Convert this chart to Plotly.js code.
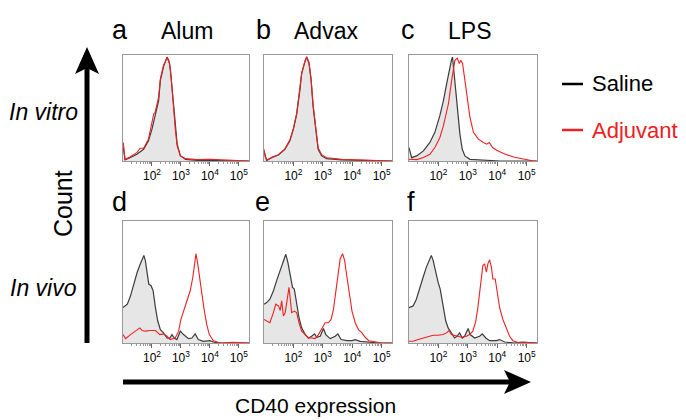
<!DOCTYPE html>
<html><head><meta charset="utf-8">
<script src="https://cdn.plot.ly/plotly-3.0.1.min.js"></script>
<style>html,body{margin:0;padding:0;background:#fff}#chart{width:686px;height:420px}</style>
</head><body><div id="chart"></div>
<script>
// ---- data (x in log10 units of CD40 fluorescence, y = normalised count) ----
const tickVals = [2, 3, 4, 5];
const tickText = ['10<sup>2</sup>', '10<sup>3</sup>', '10<sup>4</sup>', '10<sup>5</sup>'];
const panelLetters = ['a', 'b', 'c', 'd', 'e', 'f'];
const adjuvantNames = ['Alum', 'Advax', 'LPS'];
const rowLabels = ['In vitro', 'In vivo'];
const seriesNames = ['Saline', 'Adjuvant'];

// a: Alum in vitro
const aSalineX = [1.01,1.07,1.24,1.48,1.71,1.88,2.0,2.11,2.23,2.29,2.40,2.52,2.61,2.67,2.75,2.81,2.87,2.98,3.16,3.56,4.03,5.35];
const aSalineY = [.13,.01,.03,.063,.11,.19,.30,.43,.57,.76,.89,.98,.92,.76,.51,.32,.16,.05,.016,.006,.003,0];
const aAdjX = [1.01,1.07,1.24,1.48,1.59,1.71,1.88,2.0,2.06,2.11,2.17,2.23,2.29,2.40,2.46,2.52,2.58,2.64,2.69,2.75,2.81,2.87,2.98,3.16,3.56,4.03,4.38,5.35];
const aAdjY = [.175,.016,.038,.079,.12,.12,.206,.349,.444,.46,.54,.603,.778,.905,.937,.98,.952,.857,.698,.476,.286,.143,.048,.022,.013,.016,.01,0];
// b: Advax in vitro
const bSalineX = [1.0,1.09,1.26,1.49,1.71,1.88,2.0,2.11,2.22,2.28,2.39,2.45,2.53,2.6,2.67,2.76,2.84,2.96,3.13,3.64,4.44,5.35];
const bSalineY = [.095,.006,.03,.057,.11,.19,.30,.44,.667,.825,.937,.98,.92,.76,.51,.286,.11,.048,.022,.01,.005,0];
const bAdjX = [1.0,1.05,1.12,1.26,1.49,1.71,1.88,2.0,2.11,2.22,2.28,2.39,2.45,2.53,2.6,2.67,2.76,2.84,2.96,3.13,3.64,4.44,5.35];
const bAdjY = [.11,.03,.01,.035,.06,.115,.2,.31,.45,.675,.83,.94,.985,.93,.78,.53,.3,.125,.06,.03,.015,.008,0];
// c: LPS in vitro
const cSalineX = [1.0,1.09,1.26,1.49,1.71,1.88,2.05,2.17,2.28,2.39,2.45,2.48,2.56,2.62,2.68,2.73,2.81,2.90,3.07,3.53,4.09,5.34];
const cSalineY = [.127,.032,.048,.095,.175,.27,.43,.57,.73,.89,.96,.98,.76,.57,.40,.254,.11,.048,.016,.006,0,0];
const cAdjX = [1.0,1.26,1.49,1.71,1.88,2.05,2.17,2.34,2.45,2.51,2.56,2.64,2.71,2.76,2.82,2.90,2.96,3.07,3.19,3.36,3.53,3.64,3.73,3.84,3.98,4.21,4.55,4.89,5.23,5.34];
const cAdjY = [.016,.013,.032,.063,.127,.222,.333,.54,.76,.89,.95,.97,.92,.95,.92,.76,.635,.413,.27,.206,.175,.159,.175,.127,.102,.07,.038,.016,0,0];
// d: Alum in vivo
const dSalineX = [1.00,1.15,1.26,1.38,1.49,1.60,1.72,1.77,1.83,1.89,1.97,2.04,2.12,2.20,2.29,2.40,2.52,2.61,2.69,2.77,2.86,2.98,3.09,3.26,3.38,3.49,3.60,3.77,4.00,4.12,4.35,4.75,4.86,5.35];
const dSalineY = [.29,.318,.387,.497,.58,.649,.718,.677,.566,.483,.47,.428,.29,.18,.11,.083,.041,.036,.069,.041,.028,.097,.069,.036,.041,.075,.028,.014,.019,.008,0,0,.006,0];
const dAdjX = [1.00,1.09,1.26,1.43,1.58,1.66,1.77,1.95,2.12,2.27,2.40,2.52,2.63,2.80,2.92,3.00,3.11,3.23,3.32,3.41,3.47,3.52,3.58,3.64,3.72,3.80,3.89,3.98,4.12,4.35,4.80,5.35];
const dAdjY = [.069,.036,.069,.097,.124,.102,.097,.102,.102,.069,.075,.055,.028,.041,.097,.193,.276,.359,.428,.539,.649,.732,.649,.539,.428,.276,.152,.069,.019,0,.006,0];
// e: Advax in vivo
const eSalineX = [1.00,1.09,1.20,1.32,1.43,1.55,1.66,1.74,1.81,1.89,1.97,2.03,2.11,2.19,2.28,2.40,2.51,2.62,2.72,2.79,2.91,3.02,3.10,3.25,3.42,3.51,3.62,3.82,3.99,4.10,4.27,4.56,4.90,5.35];
const eSalineY = [.318,.331,.359,.428,.511,.594,.677,.727,.663,.566,.456,.442,.318,.207,.124,.069,.041,.055,.075,.047,.055,.119,.069,.036,.055,.075,.028,.019,.019,.028,.014,.008,0,0];
const eAdjX = [1.00,1.09,1.20,1.32,1.40,1.49,1.55,1.60,1.66,1.72,1.81,1.85,1.90,1.94,2.03,2.11,2.19,2.28,2.40,2.51,2.62,2.74,2.85,2.96,3.08,3.19,3.28,3.36,3.44,3.51,3.59,3.67,3.74,3.82,3.90,3.99,4.10,4.21,4.33,4.44,4.56,4.78,5.01,5.35];
const eAdjY = [.193,.18,.166,.249,.318,.304,.268,.345,.221,.249,.387,.456,.345,.249,.262,.249,.166,.097,.069,.041,.041,.036,.069,.11,.166,.166,.193,.276,.428,.58,.691,.732,.677,.539,.387,.262,.166,.11,.083,.047,.019,.008,0,0];
// f: LPS in vivo
const fSalineX = [1.00,1.14,1.25,1.36,1.48,1.59,1.70,1.76,1.82,1.91,1.99,2.06,2.16,2.25,2.33,2.44,2.55,2.63,2.72,2.81,2.89,3.01,3.08,3.23,3.40,3.49,3.61,3.74,3.97,4.08,4.25,4.59,4.82,5.35];
const fSalineY = [.29,.304,.359,.456,.539,.622,.691,.718,.677,.566,.497,.442,.29,.18,.124,.083,.041,.055,.083,.041,.055,.119,.069,.041,.055,.075,.041,.019,.019,.028,.008,0,.008,0];
const fAdjX = [1.00,1.14,1.31,1.48,1.65,1.82,1.99,2.16,2.27,2.36,2.44,2.55,2.67,2.78,2.95,3.06,3.17,3.27,3.34,3.40,3.46,3.51,3.57,3.63,3.68,3.74,3.80,3.85,3.93,4.00,4.08,4.19,4.31,4.42,4.53,4.76,4.93,5.35];
const fAdjY = [.014,.014,.028,.041,.055,.064,.064,.069,.083,.102,.069,.061,.055,.047,.055,.069,.097,.18,.29,.40,.539,.635,.649,.58,.649,.682,.622,.525,.525,.40,.29,.193,.124,.055,.019,0,.006,0];

const salineX = [aSalineX, bSalineX, cSalineX, dSalineX, eSalineX, fSalineX];
const salineY = [aSalineY, bSalineY, cSalineY, dSalineY, eSalineY, fSalineY];
const adjX = [aAdjX, bAdjX, cAdjX, dAdjX, eAdjX, fAdjX];
const adjY = [aAdjY, bAdjY, cAdjY, dAdjY, eAdjY, fAdjY];

// ---- layout helpers (pixel -> paper) ----
const W = 686, H = 420;
const PX = v => v / W, PY = v => 1 - v / H;
const colPx = [[123, 249], [264, 392], [409, 537]];
const rowPx = [[55, 161], [221, 343]];
const FONT = '"Liberation Sans", Arial, sans-serif';
const RED = 'rgb(238,32,32)';

const minorVals = [];
for (let n = 1; n <= 4; n++) for (let k = 2; k <= 9; k++) minorVals.push(n + Math.log10(k));

const traces = [];
const layout = {
  width: W, height: H, margin: {l: 0, r: 0, t: 0, b: 0},
  paper_bgcolor: '#fff', plot_bgcolor: '#fff', showlegend: false,
  font: {family: FONT, color: '#000'},
  annotations: [], shapes: []
};

for (let i = 0; i < 6; i++) {
  const k = i + 1, suf = k > 1 ? k : '';
  const col = colPx[i % 3], row = rowPx[Math.floor(i / 3)];
  layout['xaxis' + suf] = {
    domain: [PX(col[0]), PX(col[1])], anchor: 'y' + suf, range: [1, 5.35],
    showline: true, mirror: true, linecolor: '#999', linewidth: 1,
    showgrid: false, zeroline: false, fixedrange: true,
    tickmode: 'array', tickvals: tickVals, ticktext: tickText,
    ticks: 'outside', ticklen: 4, tickwidth: 1, tickcolor: '#666',
    tickfont: {size: 12, color: '#000', family: FONT},
    minor: {tickmode: 'array', tickvals: minorVals, ticks: 'outside', ticklen: 2, tickwidth: 1, tickcolor: '#999'}
  };
  layout['yaxis' + suf] = {
    domain: [PY(row[1]), PY(row[0])], anchor: 'x' + suf, range: [0, 1.0],
    showline: true, mirror: true, linecolor: '#999', linewidth: 1,
    showgrid: false, zeroline: false, showticklabels: false, ticks: '', fixedrange: true
  };
  traces.push({x: salineX[i], y: salineY[i], xaxis: 'x' + suf, yaxis: 'y' + suf, name: seriesNames[0],
    mode: 'lines', fill: 'tozeroy', fillcolor: '#e6e6e6', line: {color: '#3c3c3c', width: 1.2}, hoverinfo: 'skip'});
  traces.push({x: adjX[i], y: adjY[i], xaxis: 'x' + suf, yaxis: 'y' + suf, name: seriesNames[1],
    mode: 'lines', line: {color: RED, width: 1.1}, hoverinfo: 'skip'});
}

function txt(text, x, y, size, opts) {
  layout.annotations.push(Object.assign({
    text: text, x: PX(x), y: PY(y), xref: 'paper', yref: 'paper', showarrow: false,
    xanchor: 'center', yanchor: 'middle', font: {size: size, family: FONT, color: '#000'}
  }, opts || {}));
}
// panel letters and titles
const letterPos = [[120, 30], [263, 30], [408, 30], [119, 202], [262, 202], [411, 202]];
panelLetters.forEach((l, i) => txt(l, letterPos[i][0], letterPos[i][1], 27));
const titlePos = [187, 326, 469];
adjuvantNames.forEach((t, i) => txt(t, titlePos[i], 31, 23));
// row labels and axis titles
txt('<i>' + rowLabels[0] + '</i>', 43, 112, 23);
txt('<i>' + rowLabels[1] + '</i>', 43, 288, 23);
txt('Count', 63, 204, 25, {textangle: -90});
txt('CD40 expression', 315, 405, 21);
// legend
txt(seriesNames[0], 590, 84, 22, {xanchor: 'left'});
txt(seriesNames[1], 590, 130, 22, {xanchor: 'left', font: {size: 22, family: FONT, color: RED}});
function line(x0, y0, x1, y1, color, w) {
  layout.shapes.push({type: 'line', xref: 'paper', yref: 'paper', x0: PX(x0), y0: PY(y0), x1: PX(x1), y1: PY(y1),
    line: {color: color, width: w}});
}
line(562, 84, 583, 84, '#000', 2.5);
line(562, 130, 583, 130, RED, 2.5);
// big arrows
line(87, 343, 87, 66, '#000', 5);
line(123, 382, 512, 382, '#000', 5);
function poly(pts) {
  const p = pts.map((q, j) => (j ? 'L' : 'M') + PX(q[0]) + ',' + PY(q[1])).join(' ') + ' Z';
  layout.shapes.push({type: 'path', xref: 'paper', yref: 'paper', path: p, fillcolor: '#000', line: {width: 0}});
}
poly([[87, 47], [99, 74], [87, 68], [75, 74]]);
poly([[531, 382], [504, 370], [510, 382], [504, 394]]);

Plotly.newPlot('chart', traces, layout, {staticPlot: true, displayModeBar: false});
</script></body></html>
